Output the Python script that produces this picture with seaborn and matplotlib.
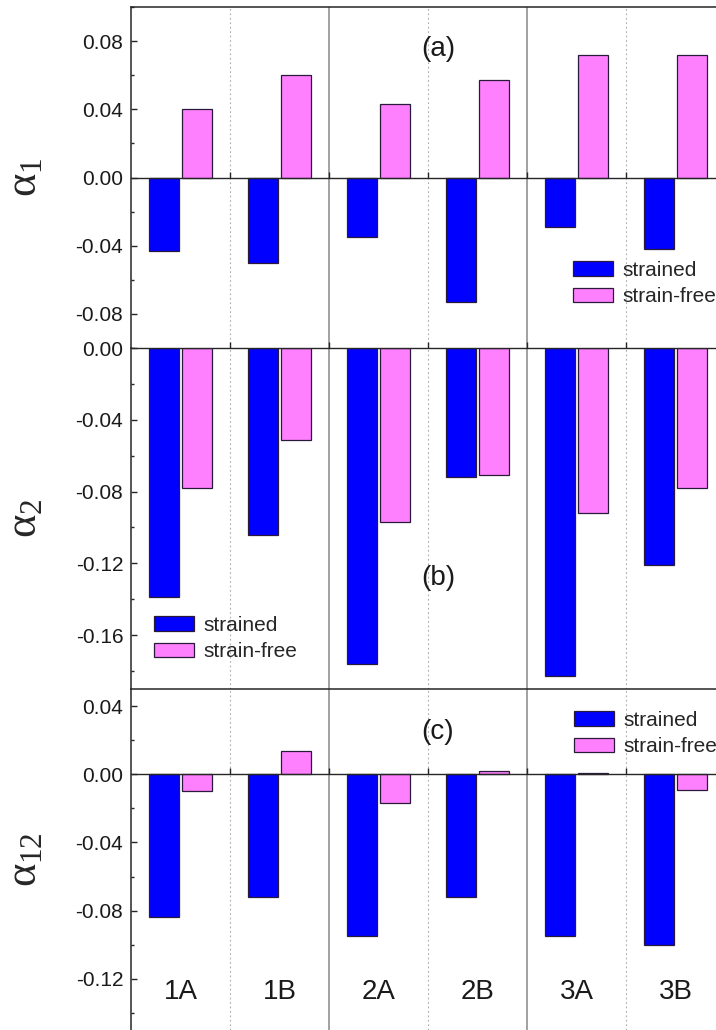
import pandas as pd
import seaborn as sns
import matplotlib.pyplot as plt
from matplotlib.patches import Patch
from matplotlib.ticker import MultipleLocator, FormatStrFormatter

samples = ['1A', '1B', '2A', '2B', '3A', '3B']
series = ['strained', 'strain-free']

alpha1_strained = [-0.043, -0.050, -0.035, -0.073, -0.029, -0.042]
alpha1_free = [0.040, 0.060, 0.043, 0.057, 0.072, 0.072]
alpha2_strained = [-0.139, -0.104, -0.176, -0.072, -0.183, -0.121]
alpha2_free = [-0.078, -0.051, -0.097, -0.0705, -0.092, -0.078]
alpha12_strained = [-0.084, -0.072, -0.095, -0.072, -0.095, -0.100]
alpha12_free = [-0.010, 0.0135, -0.017, 0.002, 0.001, -0.0095]

colors = {'strained': '#0000ff', 'strain-free': '#ff80ff'}

sns.set_style('ticks')
plt.rcParams['font.family'] = ['Liberation Sans', 'DejaVu Sans']
plt.rcParams['mathtext.fontset'] = 'custom'
plt.rcParams['mathtext.rm'] = 'Liberation Serif'
plt.rcParams['mathtext.it'] = 'Liberation Serif'
plt.rcParams['mathtext.bf'] = 'Liberation Serif:bold'

W, H = 716, 1030
fig = plt.figure(figsize=(W / 100, H / 100), dpi=100)

# (ylabel, strained, free, ylim, tag, tag_y, legend top-left in px, top spine)
panels = [
    (r'$\alpha_1$', alpha1_strained, alpha1_free, (-0.10, 0.10), '(a)', 0.0755, (573, 261), True),
    (r'$\alpha_2$', alpha2_strained, alpha2_free, (-0.19, 0.0), '(b)', -0.128, (154, 616), False),
    (r'$\alpha_{12}$', alpha12_strained, alpha12_free, (-0.15, 0.05), '(c)', 0.0245, (574, 711), True),
]

left = 131 / W
width = 594 / W
height = 341 / H
tops = [7, 348, 689]

for i, (ylab, s_vals, f_vals, ylim, tag, tag_y, leg_xy, top_on) in enumerate(panels):
    ax = fig.add_axes([left, 1 - (tops[i] + 341) / H, width, height])
    df = pd.DataFrame({
        'sample': samples * 2,
        'value': s_vals + f_vals,
        'type': ['strained'] * len(samples) + ['strain-free'] * len(samples),
    })
    sns.barplot(data=df, x='sample', y='value', hue='type', hue_order=series,
                palette=colors, saturation=1, width=0.66, gap=0.09,
                edgecolor='#2a1a3a', linewidth=0.9, legend=False, ax=ax)

    # group separators
    for xb in [0.5, 2.5, 4.5]:
        ax.axvline(xb, color='#aaaaaa', lw=0.8, ls=(0, (1.5, 2.5)), zorder=0)
    for xb in [1.5, 3.5]:
        ax.axvline(xb, color='#888888', lw=1.1, zorder=0)

    ax.set_xlim(-0.5, 5.5)
    ax.set_ylim(*ylim)
    ax.spines['bottom'].set_position(('data', 0))
    ax.spines['bottom'].set_linewidth(1.0)
    ax.spines['right'].set_visible(False)
    ax.spines['top'].set_visible(top_on)
    ax.spines['top'].set_linewidth(1.1)
    ax.spines['left'].set_linewidth(1.1)
    ax.set_xticks([0.5, 1.5, 2.5, 3.5, 4.5, 5.5])
    ax.tick_params(axis='x', direction='in', length=4, width=1, labelbottom=False)
    ax.set_xlabel('')

    ax.yaxis.set_major_locator(MultipleLocator(0.04))
    ax.yaxis.set_minor_locator(MultipleLocator(0.02))
    ax.yaxis.set_major_formatter(FormatStrFormatter('%.2f'))
    ax.tick_params(axis='y', which='major', direction='in', length=4.5, width=1,
                   labelsize=15, pad=5.5, labelcolor='#1a1a1a')
    ax.tick_params(axis='y', which='minor', direction='in', length=2.5, width=1)

    ax.set_ylabel(ylab, fontsize=32, rotation=90)
    ax.yaxis.set_label_coords(-0.145, 0.5)

    ax.text(2.6, tag_y, tag, fontsize=20, ha='center', va='center', color='#1a1a1a')

    handles = [Patch(facecolor=colors[s], edgecolor='#2a1a3a', linewidth=0.9) for s in series]
    ax.legend(handles, series, loc='upper left',
              bbox_to_anchor=(leg_xy[0] / W, 1 - leg_xy[1] / H), bbox_transform=fig.transFigure,
              frameon=False, fontsize=15, borderpad=0, borderaxespad=0,
              handlelength=1.92, handleheight=0.72, handletextpad=0.45, labelspacing=0.35)

    if i == 2:
        for k, name in enumerate(samples):
            ax.text(k, -0.128, name, fontsize=20, ha='center', va='center', color='#1a1a1a')

fig.savefig('out.png', dpi=100)
